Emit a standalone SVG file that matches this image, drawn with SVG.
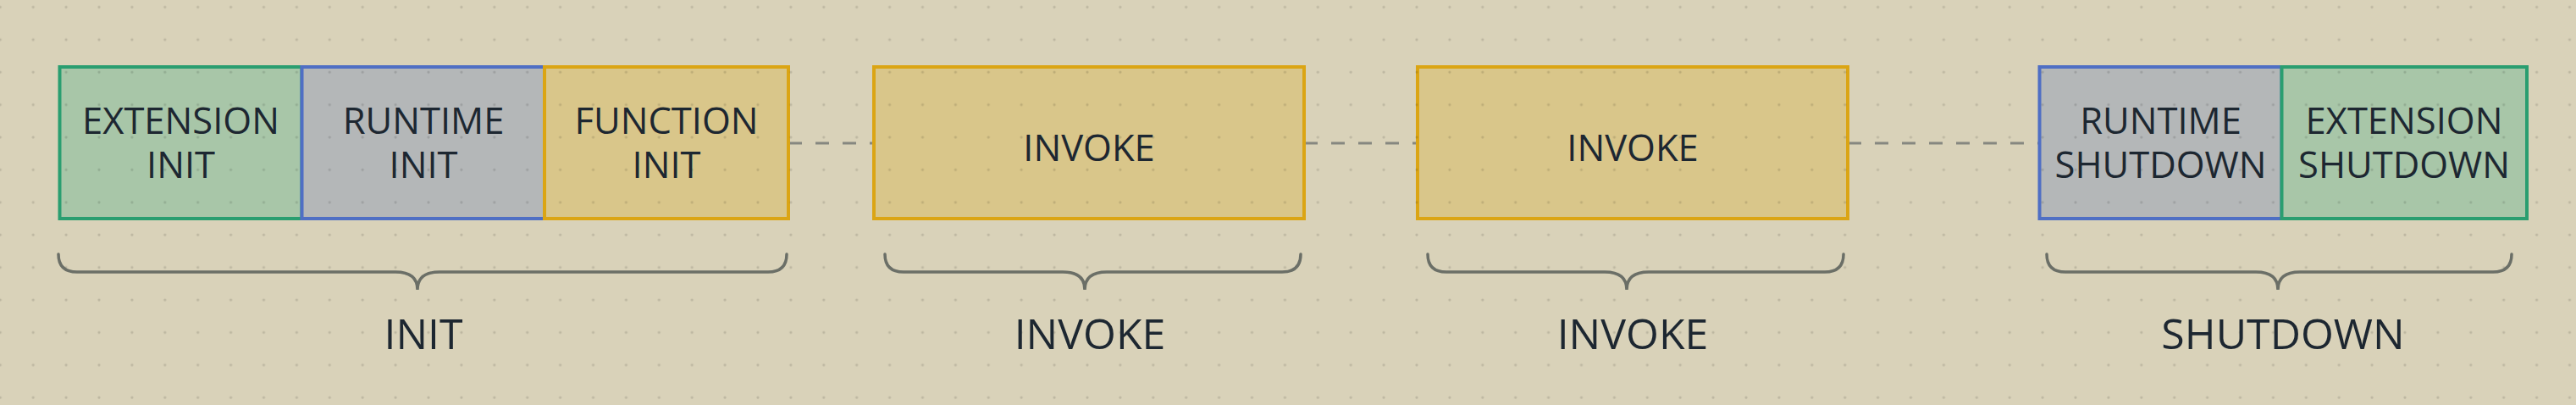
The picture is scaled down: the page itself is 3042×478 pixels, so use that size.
<svg xmlns="http://www.w3.org/2000/svg" width="3042" height="478" viewBox="0 0 3042 478">
<style>
.box{stroke-width:4}
.green{fill:#a8c6a8;stroke:#2a9e70}
.gray{fill:#b4b7b8;stroke:#4f6fc4}
.yellow{fill:#d9c68a;stroke:#dba514}
.t{font-family:"Open Sans","Noto Sans",sans-serif;fill:#1d2731;text-anchor:middle}
.in{font-size:43.5px}
.lbl{font-size:50px}
.brace{fill:none;stroke:#6b6f67;stroke-width:3.5;stroke-linecap:round}
.dash{stroke:#868780;stroke-width:3;stroke-dasharray:16 16;fill:none}
</style>
<defs>
<pattern id="dots" x="0.3" y="8.3" width="38.9" height="38.4" patternUnits="userSpaceOnUse">
<circle cx="0" cy="0" r="1.6" fill="#000" fill-opacity="0.13"/>
<circle cx="38.9" cy="0" r="1.6" fill="#000" fill-opacity="0.13"/>
<circle cx="0" cy="38.4" r="1.6" fill="#000" fill-opacity="0.13"/>
<circle cx="38.9" cy="38.4" r="1.6" fill="#000" fill-opacity="0.13"/>
</pattern>
</defs>
<rect x="0" y="0" width="3042" height="478" fill="#d9d2b9"/>
<g id="connectors">
<line class="dash" x1="931" y1="169" x2="1032" y2="169"/>
<line class="dash" x1="1540" y1="169" x2="1674" y2="169"/>
<line class="dash" x1="2182" y1="169" x2="2408" y2="169"/>
</g>
<g id="extension-init"><rect class="box green" x="70.5" y="79" width="286" height="179"/></g>
<g id="runtime-init"><rect class="box gray" x="356.5" y="79" width="286.5" height="179"/></g>
<g id="function-init"><rect class="box yellow" x="643" y="79" width="288" height="179"/></g>
<g id="invoke-1"><rect class="box yellow" x="1032" y="79" width="508" height="179"/></g>
<g id="invoke-2"><rect class="box yellow" x="1674" y="79" width="508" height="179"/></g>
<g id="runtime-shutdown"><rect class="box gray" x="2408.5" y="79" width="286" height="179"/></g>
<g id="extension-shutdown"><rect class="box green" x="2694.5" y="79" width="289.5" height="179"/></g>
<rect x="0" y="0" width="3042" height="478" fill="url(#dots)"/>
<g id="box-labels">
<text class="t in" x="213.5" y="157.5">EXTENSION<tspan x="213.5" y="210">INIT</tspan></text>
<text class="t in" x="500" y="157.5">RUNTIME<tspan x="500" y="210">INIT</tspan></text>
<text class="t in" x="787" y="157.5">FUNCTION<tspan x="787" y="210">INIT</tspan></text>
<text class="t in" x="1286" y="190">INVOKE</text>
<text class="t in" x="1928" y="190">INVOKE</text>
<text class="t in" x="2551.5" y="157.5">RUNTIME<tspan x="2551.5" y="210">SHUTDOWN</tspan></text>
<text class="t in" x="2839" y="157.5">EXTENSION<tspan x="2839" y="210">SHUTDOWN</tspan></text>
</g>
<g id="brace-init">
<path class="brace" d="M69,300 Q69,321 91,321 H467 Q493,321 493,342 Q493,321 519,321 H907 Q929,321 929,300"/>
<text class="t lbl" x="500" y="411.5">INIT</text>
</g>
<g id="brace-invoke-1">
<path class="brace" d="M1045,300 Q1045,321 1067,321 H1255 Q1281,321 1281,342 Q1281,321 1307,321 H1514 Q1536,321 1536,300"/>
<text class="t lbl" x="1287" y="411.5">INVOKE</text>
</g>
<g id="brace-invoke-2">
<path class="brace" d="M1686,300 Q1686,321 1708,321 H1895 Q1921,321 1921,342 Q1921,321 1947,321 H2155 Q2177,321 2177,300"/>
<text class="t lbl" x="1928" y="411.5">INVOKE</text>
</g>
<g id="brace-shutdown">
<path class="brace" d="M2417,300 Q2417,321 2439,321 H2664 Q2690,321 2690,342 Q2690,321 2716,321 H2944 Q2966,321 2966,300"/>
<text class="t lbl" x="2696" y="411.5">SHUTDOWN</text>
</g>
</svg>
